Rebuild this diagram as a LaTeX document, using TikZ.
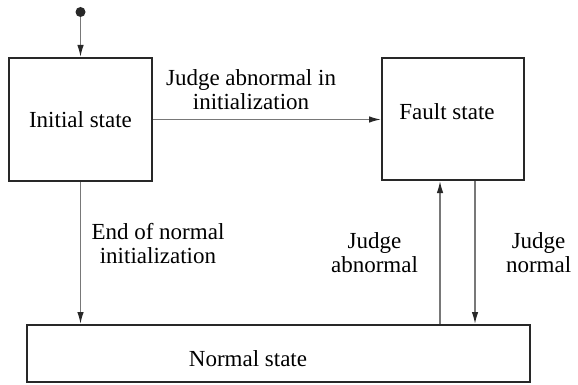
\documentclass[tikz,border=0pt]{standalone}
\usepackage{fontspec}
\setmainfont{Liberation Serif}
\usepackage{tikz}
\usetikzlibrary{arrows.meta}
\definecolor{linegray}{RGB}{120,120,120}
\definecolor{boxgray}{RGB}{40,40,40}
\tikzstyle{block} = [draw=boxgray, line width=2pt, rectangle, inner sep=0pt]
\tikzstyle{txt} = [font=\fontsize{23}{24}\selectfont, align=center]
\tikzstyle{start} = [circle, fill=boxgray, minimum size=10pt, inner sep=0pt]
\tikzstyle{trans} = [draw=linegray, line width=1.4pt, ->]

\begin{document}
\begin{tikzpicture}[x=1pt, y=-1pt, >={Latex[length=12pt,width=6.5pt,color=boxgray]}]
    \useasboundingbox (0,0) rectangle (578,385);

    % 状态框
    \node [block, txt, minimum width=143pt, minimum height=123pt] (init) at (80.5,119.5) {Initial state};
    \node [block, minimum width=142pt, minimum height=122pt] (fault) at (453,119) {};
    \node [txt] (fault_t) at (447,112) {Fault state};
    \node [block, minimum width=503pt, minimum height=57pt] (normal) at (278.5,353.5) {};
    \node [txt] (normal_t) at (248,359) {Normal state};
    \node [start] (start) at (80.5,12) {};

    % 竖线的落点
    \coordinate (up_b) at ([xshift=-13pt]fault.south);
    \coordinate (dn_b) at ([xshift=22pt]fault.south);

    % 状态转移
    \draw [trans] (start) -- (init);
    \draw [trans] (init.east) -- node [txt, above=6pt, pos=0.43] {Judge abnormal in\\initialization} (init.east -| fault.west);
    \draw [trans] (init) -- node [txt, right=7pt, pos=0.43] {End of normal\\initialization} (init.south |- normal.north);
    \draw [trans] (up_b |- normal.north) -- node [txt, left=18pt] {Judge\\abnormal} (up_b);
    \draw [trans] (dn_b) -- node [txt, right=27pt] {Judge\\normal} (dn_b |- normal.north);
\end{tikzpicture}
\end{document}
